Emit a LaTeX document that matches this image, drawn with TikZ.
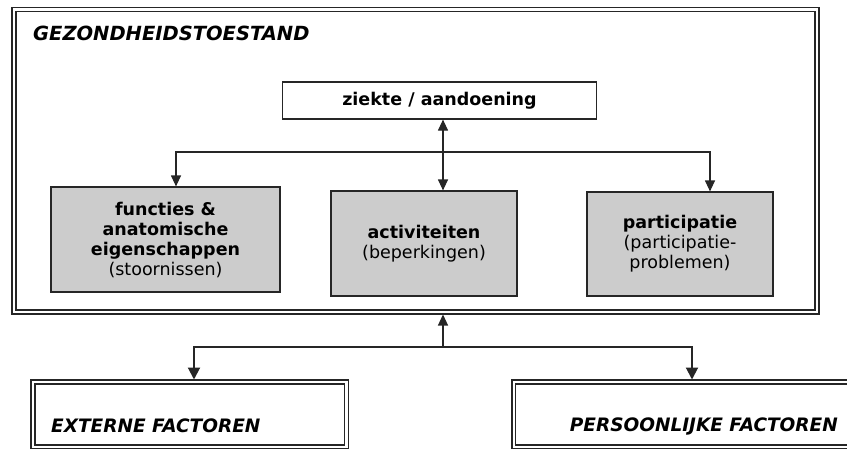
\documentclass[tikz,border=0pt]{standalone}
\usepackage{fontspec}
\setmainfont{DejaVu Sans}
\usepackage{tikz}
\usetikzlibrary{
  	positioning,
  	arrows.meta,
  	calc
  }
\tikzstyle{framebox}=[draw=black!85,double,double distance=2.3pt,line width=1.4pt,inner sep=0pt,outer sep=2.5pt]
\tikzstyle{greybox}=[draw=black!85,fill=black!20,line width=1.2pt,align=center,inner sep=0pt]
\tikzstyle{whitebox}=[draw=black!85,fill=white,line width=1.2pt,inner sep=0pt]
\tikzstyle{heading}=[font=\fontsize{18.5}{22}\selectfont\bfseries\itshape,inner sep=0pt]
\tikzstyle{thinline}=[draw=black!85,line width=1.2pt,>={Triangle[width=10pt,length=11pt]}]
\tikzstyle{thickline}=[draw=black!85,line width=2pt,>={Triangle[width=12pt,length=12pt]}]

\begin{document}
\begin{tikzpicture}[x=1pt,y=-1pt,font=\fontsize{17.5}{20}\selectfont]
\useasboundingbox (0,0) rectangle (847,448);
\clip (0,0) rectangle (847,448);
% health condition
\node[framebox,minimum width=803pt,minimum height=302.5pt] (gezond) at (415.5,160.75) {};
\node[heading,anchor=west,font=\fontsize{19.5}{22}\selectfont\bfseries\itshape] (gezondtitle) at ($(gezond.north west)+(21.5,26)$) {GEZONDHEIDSTOESTAND};
\node[whitebox,minimum width=313.5pt,minimum height=37pt,font=\fontsize{17.5}{20}\selectfont\bfseries] (ziekte) at (439.5,100.5) {ziekte / aandoening};
\node[greybox,minimum width=229pt,minimum height=105pt] (functies) at (165.5,239.5)
   {\textbf{functies \&}\\\textbf{anatomische}\\\textbf{eigenschappen}\\(stoornissen)};
\node[greybox,minimum width=186pt,minimum height=105pt] (activiteit) at (424,243.5)
   {\textbf{activiteiten}\\(beperkingen)};
\node[greybox,minimum width=186pt,minimum height=104pt] (particip) at (680,244)
   {\textbf{participatie}\\(participatie-\\problemen)};
\coordinate (midsplit) at (443,152);
\coordinate (lsplit) at (176,152);
\coordinate (rsplit) at (710,152);
\draw[thinline,<->] (ziekte.south -| midsplit) -- (midsplit |- activiteit.north);
\draw[thinline,<->] (lsplit |- functies.north) -- (lsplit) -- (rsplit) -- (rsplit |- particip.north);
% context factors
\node[framebox,minimum width=313.5pt,minimum height=65pt] (extern) at (189.75,414.5) {};
\node[framebox,minimum width=341.3pt,minimum height=65pt] (persoon) at (684.35,414.5) {};
\node[heading,anchor=west] (externtitle) at ($(extern.north west)+(20.5,46.5)$) {EXTERNE FACTOREN};
\node[heading,anchor=east] (persoontitle) at ($(persoon.north east)+(-19.5,46.5)$) {PERSOONLIJKE FACTOREN};
\coordinate (dsplit) at (443,347);
\coordinate (lbot) at (194,347);
\coordinate (rbot) at (692,347);
\draw[thinline,->] (dsplit) -- (dsplit |- gezond.south);
\draw[thickline,<->] (lbot |- extern.north) -- (lbot) -- (rbot) -- (rbot |- persoon.north);
\end{tikzpicture}
\end{document}
